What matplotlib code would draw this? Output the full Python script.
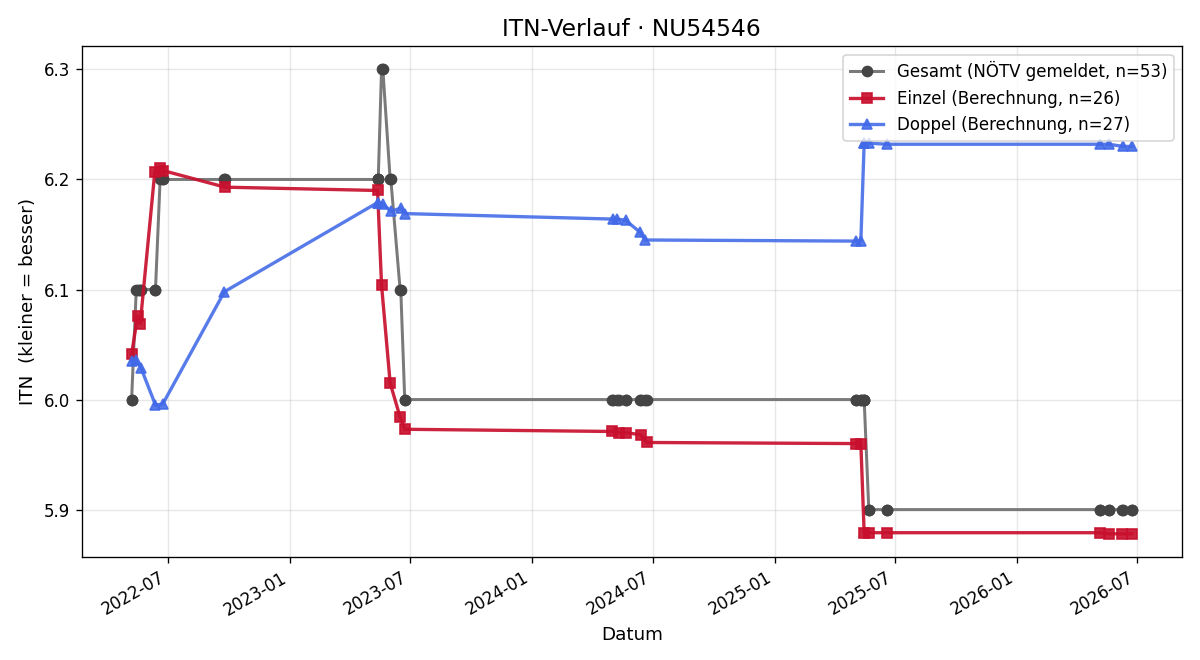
import matplotlib
matplotlib.use("Agg")
import matplotlib.pyplot as plt
import matplotlib.dates as mdates
import pandas as pd

einzel_dates = ["2022-05-07", "2022-05-16", "2022-05-20", "2022-06-11", "2022-06-19", "2022-06-24",
                "2022-09-25", "2023-05-13", "2023-05-19", "2023-06-01", "2023-06-16", "2023-06-23",
                "2024-05-01", "2024-05-11", "2024-05-21", "2024-06-13", "2024-06-22",
                "2025-05-03", "2025-05-11", "2025-05-16", "2025-05-23", "2025-06-19",
                "2026-05-07", "2026-05-20", "2026-06-09", "2026-06-24"]
einzel_values = [6.041, 6.076, 6.069, 6.207, 6.210, 6.208,
                 6.193, 6.190, 6.104, 6.015, 5.984, 5.973,
                 5.971, 5.970, 5.970, 5.968, 5.961,
                 5.960, 5.960, 5.879, 5.879, 5.879,
                 5.879, 5.878, 5.878, 5.878]

doppel_dates = ["2022-05-07", "2022-05-14", "2022-05-21", "2022-06-12", "2022-06-23", "2022-09-24",
                "2023-05-13", "2023-05-14", "2023-05-21", "2023-06-02", "2023-06-17", "2023-06-23",
                "2024-05-02", "2024-05-08", "2024-05-21", "2024-06-12", "2024-06-20",
                "2025-05-03", "2025-05-11", "2025-05-16", "2025-05-16", "2025-05-23", "2025-06-19",
                "2026-05-07", "2026-05-20", "2026-06-11", "2026-06-24"]
doppel_values = [6.035, 6.036, 6.029, 5.995, 5.996, 6.098,
                 6.179, 6.179, 6.178, 6.171, 6.174, 6.169,
                 6.164, 6.164, 6.163, 6.152, 6.145,
                 6.144, 6.144, 6.233, 6.233, 6.233, 6.232,
                 6.232, 6.232, 6.230, 6.230]

gesamt_dates = ["2022-05-07", "2022-05-07", "2022-05-14", "2022-05-16", "2022-05-20", "2022-05-21",
                "2022-06-11", "2022-06-12", "2022-06-19", "2022-06-23", "2022-06-24",
                "2022-09-24", "2022-09-25",
                "2023-05-13", "2023-05-13", "2023-05-14", "2023-05-19", "2023-05-21",
                "2023-06-01", "2023-06-02", "2023-06-16", "2023-06-17", "2023-06-23", "2023-06-23",
                "2024-05-01", "2024-05-02", "2024-05-08", "2024-05-11", "2024-05-21", "2024-05-21",
                "2024-06-12", "2024-06-13", "2024-06-20", "2024-06-22",
                "2025-05-03", "2025-05-03", "2025-05-11", "2025-05-11", "2025-05-16", "2025-05-16",
                "2025-05-16", "2025-05-23", "2025-05-23", "2025-06-19", "2025-06-19",
                "2026-05-07", "2026-05-07", "2026-05-20", "2026-05-20", "2026-06-09", "2026-06-11",
                "2026-06-24", "2026-06-24"]
gesamt_values = [6.0, 6.0, 6.1, 6.1, 6.1, 6.1,
                 6.1, 6.1, 6.2, 6.2, 6.2,
                 6.2, 6.2,
                 6.2, 6.2, 6.2, 6.3, 6.3,
                 6.2, 6.2, 6.1, 6.1, 6.0, 6.0,
                 6.0, 6.0, 6.0, 6.0, 6.0, 6.0,
                 6.0, 6.0, 6.0, 6.0,
                 6.0, 6.0, 6.0, 6.0, 6.0, 6.0,
                 6.0, 5.9, 5.9, 5.9, 5.9,
                 5.9, 5.9, 5.9, 5.9, 5.9, 5.9,
                 5.9, 5.9]

fig, ax = plt.subplots(figsize=(10, 5.5), dpi=120)
fig.subplots_adjust(left=0.068, right=0.985, top=0.930, bottom=0.156)

ax.plot(pd.to_datetime(gesamt_dates), gesamt_values, color="#7a7a7a", lw=1.8,
        marker="o", markersize=6, markerfacecolor="#444444", markeredgecolor="#444444",
        label=f"Gesamt (NÖTV gemeldet, n={len(gesamt_values)})")
ax.plot(pd.to_datetime(einzel_dates), einzel_values, color="#c8102e", lw=2.0, alpha=0.92,
        marker="s", markersize=6.5, label=f"Einzel (Berechnung, n={len(einzel_values)})")
ax.plot(pd.to_datetime(doppel_dates), doppel_values, color="#4169e8", lw=2.0, alpha=0.88,
        marker="^", markersize=6.5, label=f"Doppel (Berechnung, n={len(doppel_values)})")

ax.set_title("ITN-Verlauf · NU54546", fontsize=14)
ax.set_xlabel("Datum", fontsize=11)
ax.set_ylabel("ITN  (kleiner = besser)", fontsize=11)
ax.grid(True, alpha=0.3)
ax.xaxis.set_major_locator(mdates.MonthLocator(bymonth=(1, 7)))
ax.xaxis.set_major_formatter(mdates.DateFormatter("%Y-%m"))
ax.legend(loc="upper right", fontsize=10)
for lbl in ax.get_xticklabels():
    lbl.set_rotation(30)
    lbl.set_ha("right")
fig.savefig("out.png", dpi=120)
